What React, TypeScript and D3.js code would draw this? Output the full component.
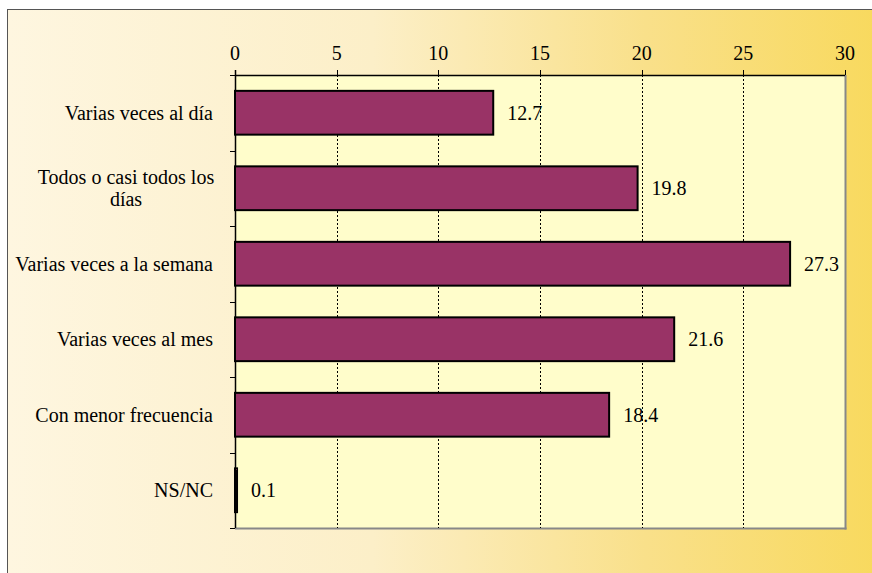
import React from "react";
import * as d3 from "d3";

const categories = [
  "Varias veces al día",
  "Todos o casi todos los días",
  "Varias veces a la semana",
  "Varias veces al mes",
  "Con menor frecuencia",
  "NS/NC",
];
const categoryLines = [
  ["Varias veces al día"],
  ["Todos o casi todos los", "días"],
  ["Varias veces a la semana"],
  ["Varias veces al mes"],
  ["Con menor frecuencia"],
  ["NS/NC"],
];
const values = [12.7, 19.8, 27.3, 21.6, 18.4, 0.1];
const valueLabels = ["12.7", "19.8", "27.3", "21.6", "18.4", "0.1"];
const ticks = [0, 5, 10, 15, 20, 25, 30];

const W = 872;
const H = 573;
const plot = { left: 235, right: 845, top: 75, bottom: 528 };
const FONT = '"Liberation Serif", "Times New Roman", "DejaVu Serif", serif';

export default function App() {
  const x = d3.scaleLinear().domain([0, 30]).range([plot.left, plot.right]);
  const y = d3
    .scaleBand<string>()
    .domain(categories)
    .range([plot.top, plot.bottom])
    .paddingInner(0.42)
    .paddingOuter(0.21);
  const bandEdges = d3
    .range(categories.length + 1)
    .map((i) => plot.top + i * ((plot.bottom - plot.top) / categories.length));
  const ts: React.CSSProperties = { fontFamily: FONT, fontSize: "20px" };

  return (
    <svg
      width={W}
      height={H}
      style={{ position: "absolute", left: 0, top: 0, display: "block", fontFamily: FONT }}
    >
      <defs>
        <linearGradient id="bg" x1="0" y1="0" x2="1" y2="0">
          <stop offset="0" stopColor="#FEF6E0" />
          <stop offset="0.4" stopColor="#FCEFC8" />
          <stop offset="0.7" stopColor="#F9E08A" />
          <stop offset="1" stopColor="#F8D856" />
        </linearGradient>
      </defs>
      <rect x={0} y={0} width={W} height={H} fill="#fff" />
      <rect x={7.5} y={9.5} width={W + 40} height={H + 40} fill="url(#bg)" stroke="#555" strokeWidth={1} />
      <rect
        x={plot.left}
        y={plot.top}
        width={plot.right - plot.left}
        height={plot.bottom - plot.top}
        fill="#FFFDCB"
      />
      <line x1={plot.right + 0.5} x2={plot.right + 0.5} y1={plot.top} y2={plot.bottom + 1.5} stroke="#888" strokeWidth={2} />
      <line x1={plot.left} x2={plot.right + 1.5} y1={plot.bottom + 0.5} y2={plot.bottom + 0.5} stroke="#888" strokeWidth={2} />
      {ticks.slice(1, -1).map((t) => (
        <line
          key={"g" + t}
          x1={Math.round(x(t)) + 0.5}
          x2={Math.round(x(t)) + 0.5}
          y1={plot.top}
          y2={plot.bottom}
          stroke="#000"
          strokeWidth={1}
          strokeDasharray="2,2"
        />
      ))}
      <line x1={plot.left} x2={plot.right} y1={plot.top + 0.5} y2={plot.top + 0.5} stroke="#000" strokeWidth={1.5} />
      {ticks.map((t) => (
        <g key={"t" + t}>
          <line x1={Math.round(x(t)) + 0.5} x2={Math.round(x(t)) + 0.5} y1={plot.top - 5} y2={plot.top} stroke="#000" />
          <text x={x(t)} y={60} textAnchor="middle" style={ts} fill="#000">
            {t}
          </text>
        </g>
      ))}
      <line x1={plot.left + 0.5} x2={plot.left + 0.5} y1={plot.top - 5} y2={plot.bottom} stroke="#000" strokeWidth={1.5} />
      {bandEdges.map((e, i) => (
        <line key={"c" + i} x1={plot.left - 5} x2={plot.left} y1={Math.round(e) + 0.5} y2={Math.round(e) + 0.5} stroke="#000" />
      ))}
      {categories.map((c, i) => (
        <rect
          key={"b" + i}
          x={x(0)}
          y={y(c)!}
          width={Math.max(x(values[i]) - x(0), 0.5)}
          height={y.bandwidth()}
          fill="#993366"
          stroke="#000"
          strokeWidth={2}
        />
      ))}
      {categories.map((c, i) => (
        <text
          key={"v" + i}
          x={x(values[i]) + 14}
          y={y(c)! + y.bandwidth() / 2}
          dy="0.35em"
          style={ts}
          fill="#000"
        >
          {valueLabels[i]}
        </text>
      ))}
      {categories.map((c, i) => {
        const lines = categoryLines[i];
        const cy = y(c)! + y.bandwidth() / 2;
        const lh = 22;
        if (lines.length === 1) {
          return (
            <text key={"l" + i} x={213} y={cy} dy="0.35em" textAnchor="end" style={ts} fill="#000">
              {lines[0]}
            </text>
          );
        }
        return (
          <text key={"l" + i} x={126} textAnchor="middle" style={ts} fill="#000">
            {lines.map((ln, j) => (
              <tspan key={j} x={126} y={cy + (j - (lines.length - 1) / 2) * lh} dy="0.35em">
                {ln}
              </tspan>
            ))}
          </text>
        );
      })}
    </svg>
  );
}
